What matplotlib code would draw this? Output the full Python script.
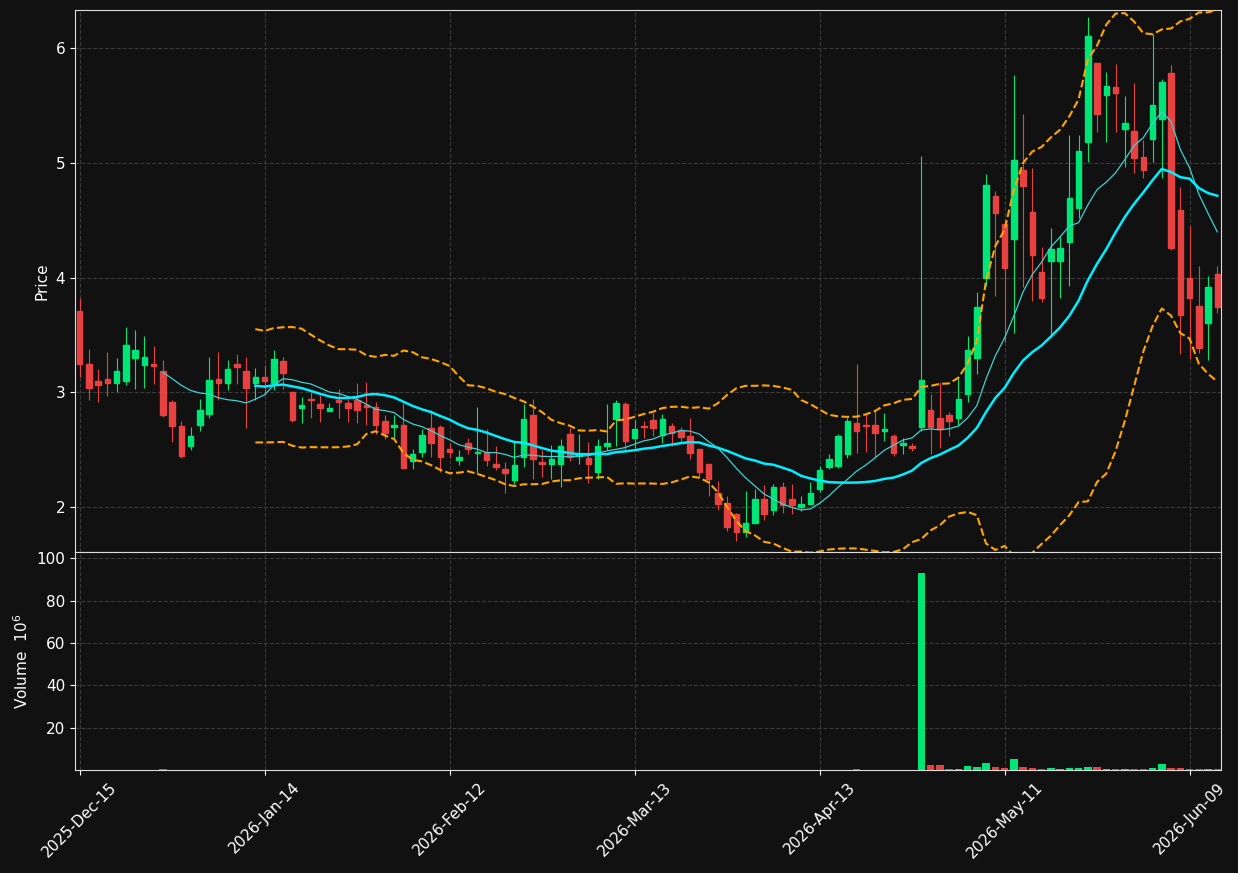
import numpy as np
import pandas as pd
import matplotlib
matplotlib.use("Agg")
import matplotlib.pyplot as plt
from matplotlib.patches import Rectangle

# trading calendar (US holidays removed)
holidays = ["2025-12-25", "2026-01-01", "2026-01-19", "2026-02-16", "2026-04-03", "2026-05-25"]
dates = [d for d in pd.bdate_range("2025-12-15", "2026-06-12") if d.strftime("%Y-%m-%d") not in holidays]

opens = [3.71, 3.25, 3.10, 3.12, 3.08, 3.10, 3.30, 3.24, 3.25, 3.19, 2.92, 2.71, 2.53, 2.72, 2.81, 3.12,
         3.08, 3.25, 3.19, 3.08, 3.13, 3.08, 3.27, 3.00, 2.86, 2.94, 2.90, 2.84, 2.93, 2.91, 2.93, 2.89,
         2.87, 2.75, 2.70, 2.72, 2.40, 2.48, 2.69, 2.70, 2.51, 2.41, 2.56, 2.47, 2.48, 2.38, 2.33, 2.24,
         2.44, 2.80, 2.39, 2.38, 2.38, 2.64, 2.45, 2.43, 2.31, 2.53, 2.77, 2.90, 2.60, 2.71, 2.76, 2.63,
         2.71, 2.67, 2.62, 2.51, 2.38, 2.12, 2.04, 1.94, 1.78, 1.86, 2.07, 1.98, 2.18, 2.07, 2.00, 2.03,
         2.16, 2.35, 2.36, 2.46, 2.73, 2.72, 2.72, 2.66, 2.62, 2.54, 2.53, 2.70, 2.85, 2.78, 2.80, 2.78,
         2.99, 3.30, 4.00, 4.71, 4.47, 4.34, 4.94, 4.57, 4.05, 4.14, 4.14, 4.31, 4.61, 5.18, 5.87, 5.59,
         5.66, 5.29, 5.28, 5.05, 5.21, 5.38, 5.78, 4.59, 4.00, 3.75, 3.60, 4.03]
closes = [3.25, 3.04, 3.06, 3.08, 3.19, 3.41, 3.37, 3.31, 3.23, 2.80, 2.71, 2.45, 2.62, 2.85, 3.11, 3.08,
          3.20, 3.22, 3.04, 3.13, 3.10, 3.29, 3.17, 2.76, 2.89, 2.93, 2.86, 2.86, 2.92, 2.86, 2.85, 2.87,
          2.72, 2.65, 2.72, 2.34, 2.46, 2.63, 2.56, 2.44, 2.48, 2.44, 2.51, 2.48, 2.41, 2.35, 2.30, 2.37,
          2.77, 2.42, 2.38, 2.42, 2.53, 2.44, 2.47, 2.38, 2.53, 2.56, 2.91, 2.58, 2.68, 2.70, 2.69, 2.77,
          2.65, 2.61, 2.47, 2.31, 2.25, 2.03, 1.83, 1.78, 1.86, 2.07, 1.94, 2.18, 2.02, 2.02, 2.03, 2.12,
          2.32, 2.42, 2.62, 2.75, 2.66, 2.71, 2.65, 2.68, 2.47, 2.56, 2.52, 3.11, 2.70, 2.68, 2.75, 2.94,
          3.37, 3.74, 4.81, 4.56, 4.08, 5.02, 4.80, 4.20, 3.82, 4.25, 4.26, 4.69, 5.10, 6.10, 5.42, 5.67,
          5.61, 5.35, 5.04, 4.94, 5.50, 5.70, 4.26, 3.67, 3.82, 3.39, 3.92, 3.74]
highs = [3.82, 3.38, 3.20, 3.35, 3.30, 3.57, 3.54, 3.49, 3.40, 3.28, 2.93, 2.75, 2.70, 2.94, 3.31, 3.35,
         3.28, 3.33, 3.31, 3.21, 3.24, 3.37, 3.31, 3.00, 2.96, 3.00, 2.98, 2.91, 3.03, 2.96, 3.08, 3.09,
         2.92, 2.80, 2.80, 2.91, 2.51, 2.68, 2.85, 2.72, 2.56, 2.50, 2.60, 2.87, 2.68, 2.53, 2.39, 2.58,
         2.90, 2.94, 2.50, 2.54, 2.59, 2.69, 2.64, 2.57, 2.59, 2.90, 2.93, 2.92, 2.76, 2.75, 2.82, 2.81,
         2.73, 2.70, 2.78, 2.51, 2.38, 2.23, 2.10, 1.95, 2.14, 2.16, 2.19, 2.20, 2.22, 2.20, 2.10, 2.22,
         2.36, 2.46, 2.64, 2.78, 3.25, 2.82, 2.84, 2.82, 2.64, 2.60, 2.56, 5.06, 2.99, 3.09, 2.83, 3.13,
         3.49, 3.87, 4.90, 4.75, 4.51, 5.76, 5.42, 4.95, 4.27, 4.43, 4.36, 5.24, 5.24, 6.27, 5.86, 5.79,
         5.86, 5.58, 5.69, 5.20, 6.12, 5.73, 5.85, 4.79, 4.45, 4.10, 4.01, 4.10]
lows = [3.13, 2.93, 2.92, 2.97, 3.00, 3.06, 3.03, 3.04, 3.07, 2.79, 2.57, 2.43, 2.50, 2.66, 2.78, 2.93,
        3.02, 3.07, 2.69, 2.93, 2.98, 3.02, 3.03, 2.74, 2.73, 2.78, 2.74, 2.84, 2.78, 2.74, 2.73, 2.72,
        2.64, 2.59, 2.59, 2.33, 2.33, 2.44, 2.44, 2.31, 2.43, 2.37, 2.46, 2.29, 2.36, 2.32, 2.12, 2.20,
        2.35, 2.25, 2.26, 2.25, 2.18, 2.40, 2.38, 2.21, 2.25, 2.50, 2.53, 2.50, 2.52, 2.60, 2.62, 2.56,
        2.53, 2.56, 2.42, 2.26, 2.10, 1.98, 1.79, 1.71, 1.74, 1.86, 1.89, 1.93, 1.95, 1.94, 1.97, 2.02,
        2.13, 2.33, 2.34, 2.43, 2.47, 2.48, 2.44, 2.58, 2.45, 2.46, 2.49, 2.66, 2.46, 2.52, 2.62, 2.72,
        2.92, 3.16, 3.93, 3.84, 3.44, 3.52, 3.92, 3.80, 3.79, 3.48, 3.82, 3.93, 4.52, 5.01, 5.27, 5.18,
        5.27, 4.96, 4.91, 4.87, 5.01, 4.87, 4.24, 3.33, 3.29, 3.34, 3.28, 3.69]
volumes = [0.2, 0.1, 0.1, 0.1, 0.1, 0.1, 0.1, 0.2, 0.1, 0.3, 0.2, 0.2, 0.1, 0.1, 0.2, 0.1,
           0.1, 0.1, 0.1, 0.1, 0.1, 0.1, 0.1, 0.1, 0.1, 0.2, 0.1, 0.1, 0.1, 0.1, 0.1, 0.1,
           0.1, 0.1, 0.1, 0.2, 0.1, 0.1, 0.1, 0.1, 0.1, 0.1, 0.1, 0.1, 0.1, 0.1, 0.1, 0.1,
           0.2, 0.2, 0.1, 0.1, 0.2, 0.1, 0.1, 0.1, 0.1, 0.1, 0.2, 0.1, 0.1, 0.1, 0.1, 0.1,
           0.1, 0.1, 0.1, 0.1, 0.1, 0.1, 0.1, 0.1, 0.1, 0.1, 0.1, 0.1, 0.1, 0.1, 0.1, 0.1,
           0.1, 0.1, 0.1, 0.1, 0.3, 0.1, 0.1, 0.1, 0.1, 0.1, 0.1, 93.0, 2.5, 2.4, 0.5, 0.6,
           1.8, 1.2, 3.2, 1.2, 0.8, 5.0, 1.2, 1.1, 0.7, 0.9, 0.6, 1.1, 0.8, 1.5, 1.4, 0.6,
           0.6, 0.4, 0.5, 0.6, 0.8, 2.8, 1.0, 0.9, 0.7, 0.6, 0.7, 0.6]
tick_idx = [0, 20, 40, 60, 80, 100, 120]

up_c, down_c = "#00e676", "#e84141"
bg = "#111111"

c = pd.Series(closes)
sma10 = c.rolling(10).mean()
sma20 = c.rolling(20).mean()
std20 = c.rolling(20).std(ddof=0)
upper, lower = sma20 + 2 * std20, sma20 - 2 * std20

fig = plt.figure(figsize=(12.38, 8.73), dpi=100, facecolor=bg)
ax = fig.add_axes([75 / 1238, 1 - 552 / 873, (1221 - 75) / 1238, (552 - 10) / 873])
axv = fig.add_axes([75 / 1238, 1 - 770 / 873, (1221 - 75) / 1238, (770 - 552) / 873], sharex=ax)

x = np.arange(len(closes))
w = 0.6
for i in x:
    o, cl, h, l = opens[i], closes[i], highs[i], lows[i]
    col = up_c if cl >= o else down_c
    ax.vlines(i, l, h, color=col, lw=0.8, zorder=2)
    ax.add_patch(Rectangle((i - w / 2, min(o, cl)), w, max(abs(cl - o), 0.01), color=col, zorder=3))
    axv.bar(i, volumes[i], width=0.8, color=col)

ax.plot(x, sma10, color="#40d0d0", lw=0.9, zorder=4)
ax.plot(x, sma20, color="#00eeff", lw=1.8, zorder=4)
ax.plot(x, upper, color="#ffa500", lw=1.5, ls="--", zorder=4)
ax.plot(x, lower, color="#ffa500", lw=1.5, ls="--", zorder=4)

for a in (ax, axv):
    a.set_facecolor(bg)
    a.grid(True, color="#3a3a3a", ls="--", lw=0.8)
    a.set_axisbelow(True)
    for s in a.spines.values():
        s.set_color("#dddddd")
    a.tick_params(colors="white", labelsize=11)

ax.set_xlim(-0.5, 123.4)
ax.set_ylim(1.61, 6.33)
ax.set_yticks([2, 3, 4, 5, 6])
ax.set_ylabel("Price", color="white", fontsize=11)
ax.tick_params(labelbottom=False, bottom=False)

axv.set_ylim(0, 103)
axv.set_yticks([20, 40, 60, 80, 100])
axv.set_ylabel("Volume  $10^6$", color="white", fontsize=11)
axv.set_xticks(tick_idx)
axv.set_xticklabels([dates[i].strftime("%Y-%b-%d") for i in tick_idx], rotation=45, ha="center")

fig.savefig("out.png", dpi=100, facecolor=bg)
